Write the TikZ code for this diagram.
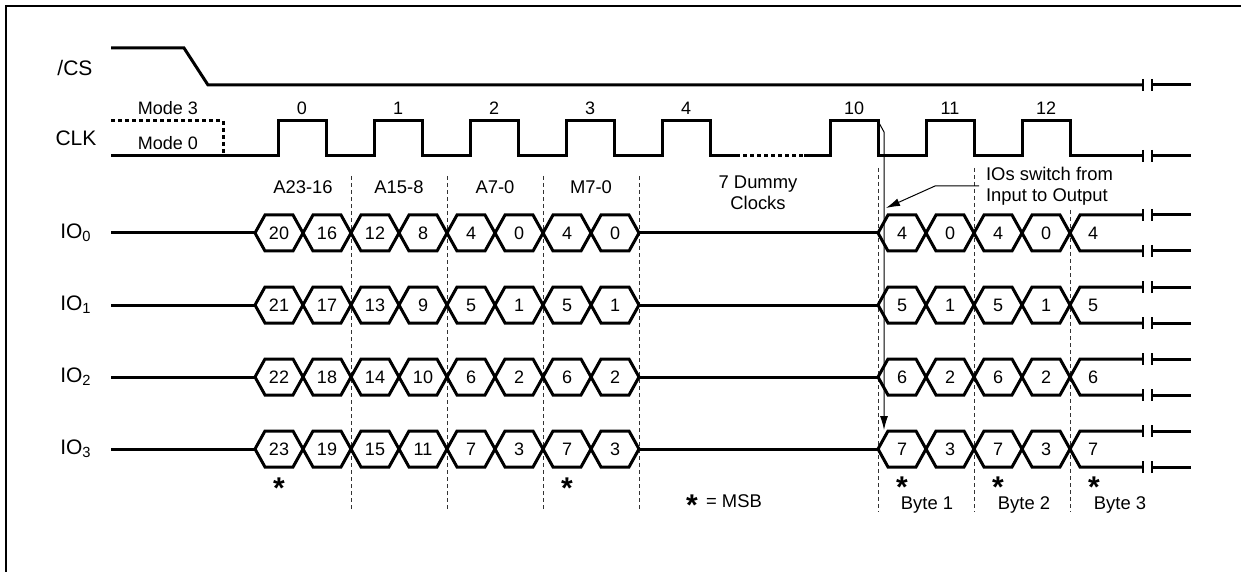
\documentclass[tikz,border=0pt]{standalone}
\usepackage{fontspec}
\setmainfont{Liberation Sans}
\usetikzlibrary{arrows.meta}
\newcommand{\msbStar}{\raisebox{-0.44em}[0.3em][0pt]{*}}
\tikzset{timingFig/.style={x=0.5pt,y=-0.5pt,>={Latex[length=7pt,width=4pt]}},
         sig/.style={line width=1.5pt},
         thinline/.style={line width=0.5pt},
         breakTick/.style={line width=0.8pt},
         divider/.style={line width=0.5pt,dash pattern=on 2pt off 1.5pt,black!80},
         modeLine/.style={line width=1.5pt,dash pattern=on 2pt off 1.5pt},
         sigName/.style={font=\fontsize{10.5}{12}\selectfont},
         bitVal/.style={font=\fontsize{9}{10}\selectfont},
         fieldLbl/.style={font=\fontsize{9.2}{10.5}\selectfont,align=center},
         msbMark/.style={font=\fontsize{15}{15}\selectfont\bfseries,inner sep=0pt}}

\begin{document}
\begin{tikzpicture}[timingFig]
	\useasboundingbox (0,0) rectangle (1241,572);
	\draw[line width=1pt] (6,572) -- (6,6) -- (1241,6);

	%CS
	\node [sigName] (cs) at (75,68) {/CS};
	\draw[sig] (111,48) -- (184,48) -- (208,85) -- (1143,85);

	%CLK
	\node [sigName] (clk) at (76,138) {CLK};
	\node [bitVal] (mode3) at (168,108) {Mode 3};
	\node [bitVal] (mode0) at (168,143) {Mode 0};
	\draw[modeLine] (111,121) -- (223,121) -- (223,156);
	\draw[sig] (111,156) -- (278,156)
		-- (278,121) -- (326,121) -- (326,156) -- (374,156)
		-- (374,121) -- (422,121) -- (422,156) -- (470,156)
		-- (470,121) -- (518,121) -- (518,156) -- (566,156)
		-- (566,121) -- (614,121) -- (614,156) -- (662,156)
		-- (662,121) -- (710,121) -- (710,156) -- (736,156);
	\draw[modeLine] (736,156) -- (804,156);
	\draw[sig] (804,156) -- (830,156)
		-- (830,121) -- (878,121) -- (878,156) -- (926,156)
		-- (926,121) -- (974,121) -- (974,156) -- (1022,156)
		-- (1022,121) -- (1070,121) -- (1070,156) -- (1143,156);
	\node [bitVal] (clk0) at (302,108) {0};
	\node [bitVal] (clk1) at (398,108) {1};
	\node [bitVal] (clk2) at (494,108) {2};
	\node [bitVal] (clk3) at (590,108) {3};
	\node [bitVal] (clk4) at (686,108) {4};
	\node [bitVal] (clk10) at (854,108) {10};
	\node [bitVal] (clk11) at (950,108) {11};
	\node [bitVal] (clk12) at (1046,108) {12};

	%DIVIDERS
	\foreach \x in {351,447,543,639}
		\draw[divider] (\x,176) -- (\x,512);
	\draw[divider] (878,168) -- (878,512);
	\draw[divider] (974,168) -- (974,512);
	\draw[divider] (1070,210) -- (1070,512);

	%FIELDS
	\node [fieldLbl] (fA2) at (303,187) {A23-16};
	\node [fieldLbl] (fA1) at (399,187) {A15-8};
	\node [fieldLbl] (fA0) at (495,187) {A7-0};
	\node [fieldLbl] (fM) at (591,187) {M7-0};
	\node [fieldLbl] (fDummy) at (758,193) {7 Dummy\\Clocks};
	\node [fieldLbl,align=left,anchor=west] (ioSwitch) at (979,186) {IOs switch from\\Input to Output};

	%IO ROWS
	\foreach \r/\y in {0/233,1/305,2/377,3/449} {
		\node [sigName] (io\r) at (76,\y) {IO\textsubscript{\r}};
		\draw[sig] (111,\y) -- (255,\y) (639,\y) -- (878,\y);
		\foreach \b [count=\i] in {20,16,12,8,4,0,4,0} {
			\pgfmathtruncatemacro\v{\b+\r}
			\draw[sig] ({207+48*\i},\y) -- ++(10,-18) -- ++(28,0) -- ++(10,18) -- ++(-10,18) -- ++(-28,0) -- cycle;
			\node [bitVal] (in\r b\i) at ({231+48*\i},\y) {\v};
		}
		\foreach \b [count=\i] in {4,0,4,0} {
			\pgfmathtruncatemacro\v{\b+\r}
			\draw[sig] ({830+48*\i},\y) -- ++(10,-18) -- ++(28,0) -- ++(10,18) -- ++(-10,18) -- ++(-28,0) -- cycle;
			\node [bitVal] (out\r b\i) at ({854+48*\i},\y) {\v};
		}
		\pgfmathtruncatemacro\v{4+\r}
		\draw[sig] (1143,\y-18) -- (1080,\y-18) -- (1070,\y) -- (1080,\y+18) -- (1143,\y+18);
		\node [bitVal] (out\r b5) at (1093,\y) {\v};
	}

	%BREAKS
	\foreach \y in {85,156,215,251,287,323,359,395,431,467} {
		\draw[breakTick] (1143,\y-6) -- (1143,\y+6) (1152,\y-6) -- (1152,\y+6);
		\draw[sig] (1152,\y) -- (1191,\y);
	}

	%ARROWS
	\coordinate (clkEdge) at (878,121);
	\coordinate (io3Tip) at (884,430);
	\coordinate (swTip) at (886,208);
	\draw[thinline,->] (clkEdge) -- ++(6,11) -- (io3Tip);
	\draw[thinline,->] (ioSwitch.west) -- ++(-44,0) -- (swTip);

	%MSB
	\node [msbMark] (msb0) at (279,481) {\msbStar};
	\node [msbMark] (msb1) at (567,481) {\msbStar};
	\node [msbMark] (msb2) at (902,480) {\msbStar};
	\node [msbMark] (msb3) at (998,480) {\msbStar};
	\node [msbMark] (msb4) at (1094,480) {\msbStar};
	\node [msbMark] (msbKey) at (692,498) {\msbStar};
	\node [fieldLbl] (msbText) at (734,501) {= MSB};
	\node [fieldLbl] (byte1) at (927,505) {Byte 1};
	\node [fieldLbl] (byte2) at (1024,505) {Byte 2};
	\node [fieldLbl] (byte3) at (1120,505) {Byte 3};
\end{tikzpicture}
\end{document}
